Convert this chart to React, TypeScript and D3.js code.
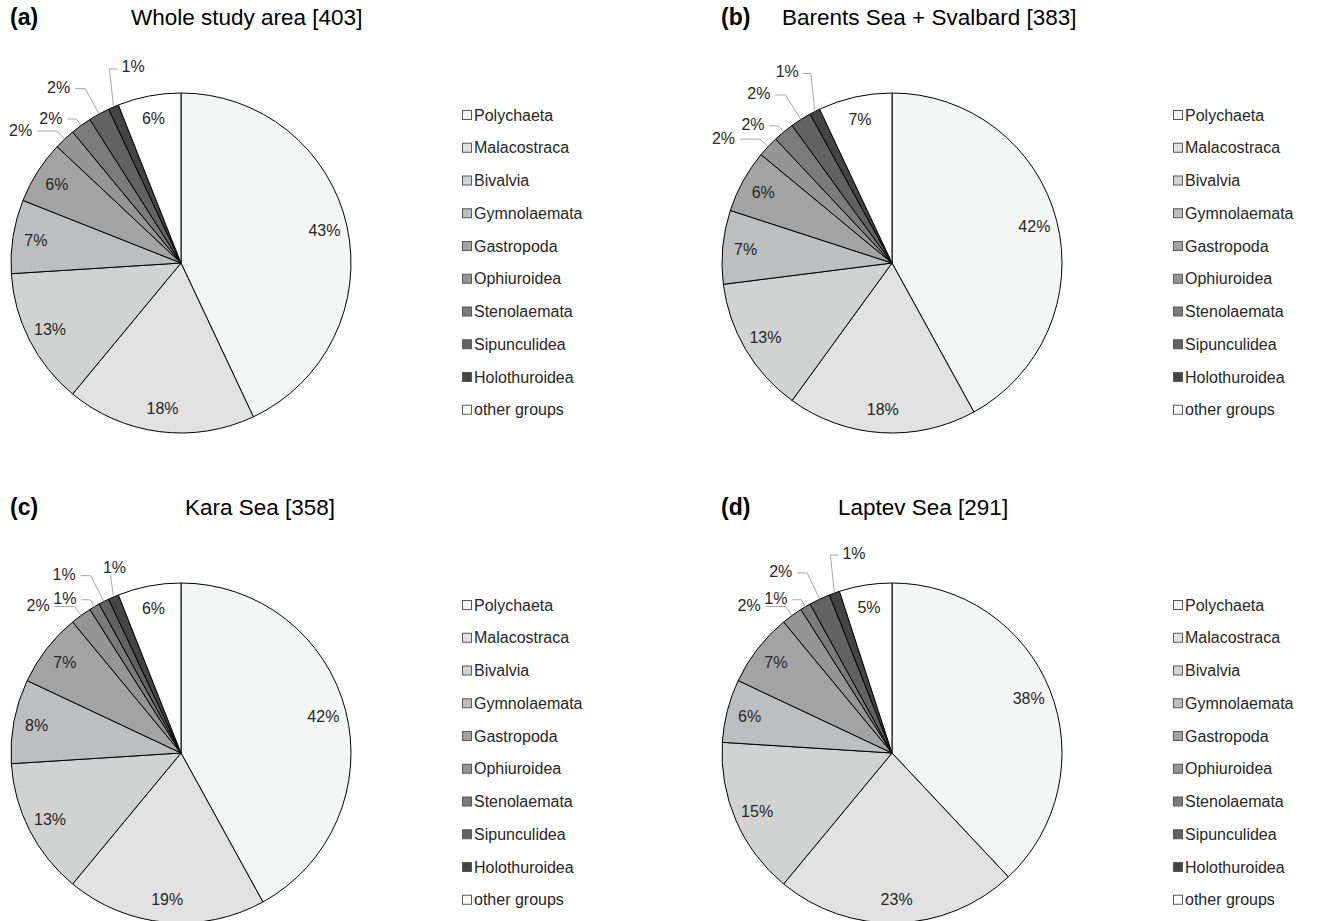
import React from 'react';
import * as d3 from 'd3';

// taxonomic groups, clockwise from 12 o'clock
const categories = [
  'Polychaeta',
  'Malacostraca',
  'Bivalvia',
  'Gymnolaemata',
  'Gastropoda',
  'Ophiuroidea',
  'Stenolaemata',
  'Sipunculidea',
  'Holothuroidea',
  'other groups',
];

// share of species (%) per region
const wholeArea = [43, 18, 13, 7, 6, 2, 2, 2, 1, 6];
const barentsSvalbard = [42, 18, 13, 7, 6, 2, 2, 2, 1, 7];
const karaSea = [42, 19, 13, 8, 7, 2, 1, 1, 1, 6];
const laptevSea = [38, 23, 15, 6, 7, 2, 1, 2, 1, 5];

const panelLetters = ['(a)', '(b)', '(c)', '(d)'];
const panelTitles = [
  'Whole study area [403]',
  'Barents Sea + Svalbard [383]',
  'Kara Sea [358]',
  'Laptev Sea [291]',
];

const colors = [
  '#f4f5f5', '#e1e1e1', '#d1d2d2', '#bdbec0', '#a3a3a3',
  '#959595', '#7b7b7b', '#626262', '#444444', '#ffffff',
];

const W = 1322;
const H = 921;
const R = 170;
const FONT = 'Arial, "Liberation Sans", sans-serif';

// layout of the four panels (lastSide: where the top-most outside label sits)
const panels = [
  { data: wholeArea, cx: 181, cy: 263, titleX: 131, lastSide: 'right' },
  { data: barentsSvalbard, cx: 892, cy: 263, titleX: 782, lastSide: 'left' },
  { data: karaSea, cx: 181, cy: 753, titleX: 185, lastSide: 'above' },
  { data: laptevSea, cx: 892, cy: 753, titleX: 838, lastSide: 'right' },
];

// outside-label leader geometry for small slices (elbow distance past rim, horizontal run)
const elbowOut = [11, 8, 29, 40];
const runLen = [20, 9, 10, 8];

const pie = d3.pie<number>().sort(null).value((d) => d);
const arc = d3.arc<d3.PieArcDatum<number>>().innerRadius(0).outerRadius(R);

const polar = (angle: number, r: number) => [Math.sin(angle) * r, -Math.cos(angle) * r];

const PiePanel = ({ idx }: { idx: number }) => {
  const { data, cx, cy, titleX, lastSide } = panels[idx];
  const arcs = pie(data);
  let small = 0;

  return (
    <g>
      <text x={cx - 171} y={cy - 238} fontFamily={FONT} fontWeight="bold" fontSize={23} fill="#000">
        {panelLetters[idx]}
      </text>
      <text x={titleX} y={cy - 238} fontFamily={FONT} fontSize={22.5} fill="#000">
        {panelTitles[idx]}
      </text>

      <g transform={`translate(${cx},${cy})`}>
        {arcs.map((a, i) => (
          <path key={i} d={arc(a) || ''} fill={colors[i]} stroke="#000" strokeWidth={1} />
        ))}
        {arcs.map((a, i) => {
          const mid = (a.startAngle + a.endAngle) / 2;
          const label = `${a.data}%`;
          if (a.data > 2) {
            const [x, y] = polar(mid, 147);
            return (
              <text key={i} x={x} y={y} textAnchor="middle" dominantBaseline="central"
                fontFamily={FONT} fontSize={16} fill="#262626">
                {label}
              </text>
            );
          }
          const k = small++;
          const [ax, ay] = polar(mid, R);
          if (k === 3) {
            // top-most label: near-vertical leader
            if (lastSide === 'above') {
              const ex = ax - 3;
              const ey = ay - 22;
              return (
                <g key={i}>
                  <polyline points={`${ax},${ay} ${ex},${ey}`} fill="none" stroke="#a6a6a6" strokeWidth={1} />
                  <text x={ex + 4} y={ey - 7} textAnchor="middle" dominantBaseline="central"
                    fontFamily={FONT} fontSize={16} fill="#262626">
                    {label}
                  </text>
                </g>
              );
            }
            const ex = ax - 4;
            const ey = ay - 38;
            const dir = lastSide === 'right' ? 1 : -1;
            const hx = ex + dir * 8;
            return (
              <g key={i}>
                <polyline points={`${ax},${ay} ${ex},${ey} ${hx},${ey}`} fill="none" stroke="#a6a6a6" strokeWidth={1} />
                <text x={hx + dir * 4} y={ey - 2} textAnchor={dir > 0 ? 'start' : 'end'} dominantBaseline="central"
                  fontFamily={FONT} fontSize={16} fill="#262626">
                  {label}
                </text>
              </g>
            );
          }
          const [ex, ey] = polar(mid, R + elbowOut[k]);
          const hx = ex - runLen[k];
          return (
            <g key={i}>
              <polyline points={`${ax},${ay} ${ex},${ey} ${hx},${ey}`} fill="none"
                stroke="#a6a6a6" strokeWidth={1} />
              <text x={hx - 5} y={ey - 1} textAnchor="end" dominantBaseline="central"
                fontFamily={FONT} fontSize={16} fill="#262626">
                {label}
              </text>
            </g>
          );
        })}
      </g>

      <g transform={`translate(${cx + 281},${cy - 148})`}>
        {categories.map((c, i) => (
          <g key={c} transform={`translate(0,${i * 32.75})`}>
            <rect x={0.5} y={-4.5} width={9} height={9} fill={colors[i]} stroke="#595959" strokeWidth={1} />
            <text x={12} y={0} dominantBaseline="central" fontFamily={FONT} fontSize={16} fill="#262626">
              {c}
            </text>
          </g>
        ))}
      </g>
    </g>
  );
};

export default function App() {
  return (
    <svg width={W} height={H} style={{ position: 'absolute', left: 0, top: 0, background: '#fff' }}>
      <rect width={W} height={H} fill="#fff" />
      {panels.map((_, i) => (
        <PiePanel key={i} idx={i} />
      ))}
    </svg>
  );
}
